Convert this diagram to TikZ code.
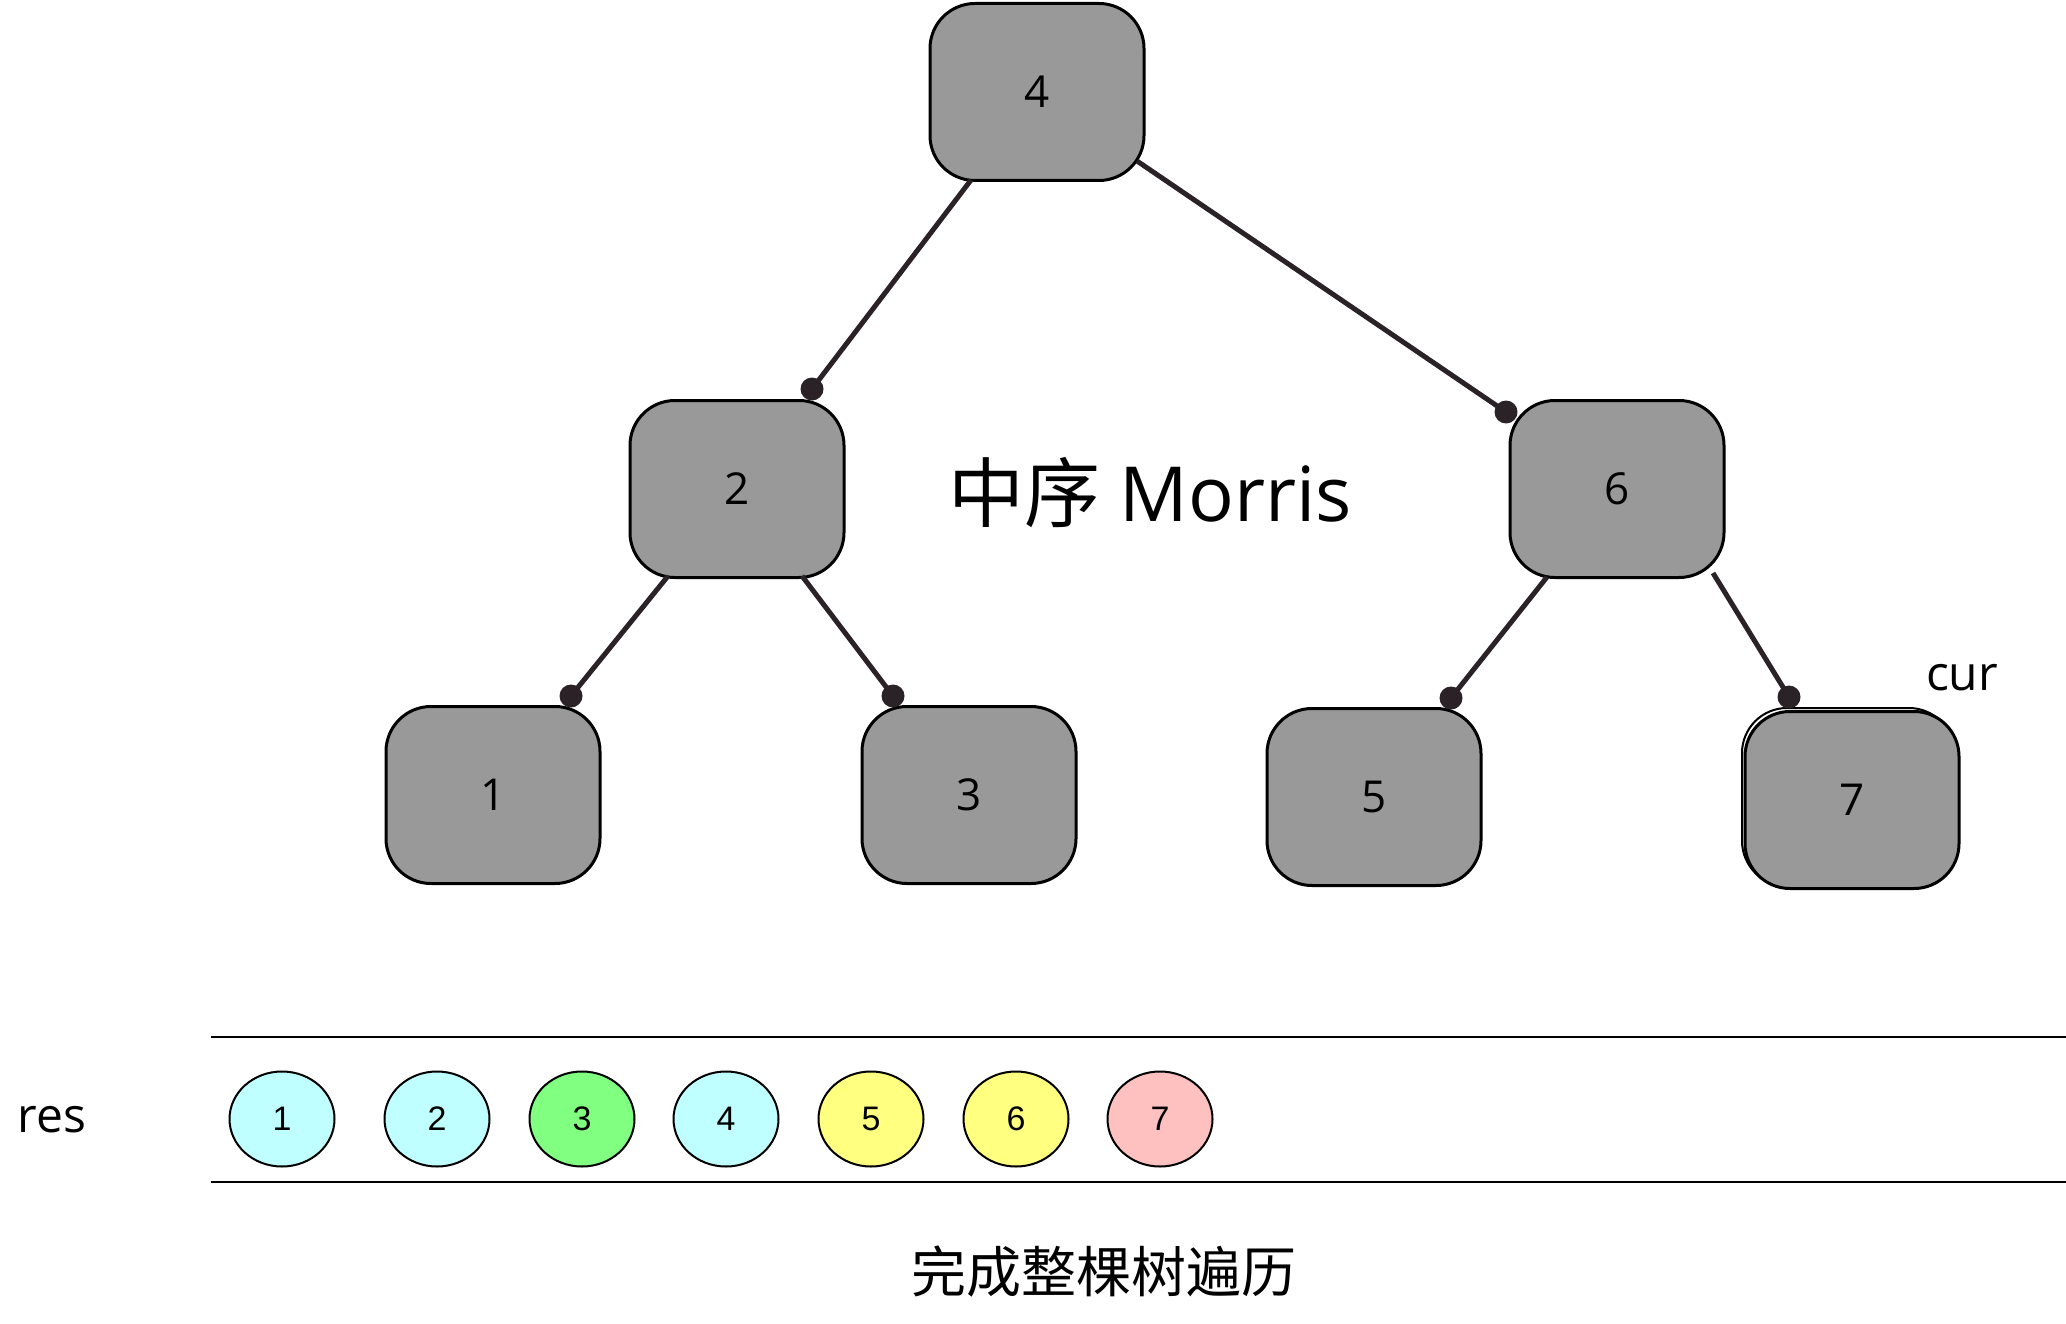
\documentclass[tikz,border=0pt]{standalone}
\usepackage{fontspec}
\setmainfont{Open Sans}
\newfontfamily\cjk{Noto Sans CJK SC}
\newfontfamily\helv{Liberation Sans}
\usetikzlibrary{calc,shapes.geometric}
\definecolor{boxgray}{HTML}{999999}
\definecolor{edgecol}{RGB}{43,34,40}
\definecolor{rcyan}{HTML}{C0FFFF}
\definecolor{rgreen}{HTML}{80FF80}
\definecolor{ryellow}{HTML}{FFFF80}
\definecolor{rpink}{HTML}{FFC0C0}
\begin{document}
\begin{tikzpicture}[x=1pt,y=-1pt,
  treenode/.style={draw=black,line width=3pt,fill=boxgray,rounded corners=45pt,
    minimum width=214pt,minimum height=177pt,inner sep=0pt,font=\fontsize{44}{48}\selectfont},
  edge/.style={draw=edgecol,line width=5pt},
  resnode/.style={ellipse,draw=black,line width=2pt,minimum width=105pt,minimum height=95pt,
    inner sep=0pt,font=\helv\fontsize{34}{38}\selectfont},
  lbl/.style={font=\fontsize{48}{52}\selectfont,inner sep=0pt}]
\useasboundingbox (0,0) rectangle (2066,1324);
% tree nodes
\node[treenode] (n4) at (1037,92) {4};
\node[treenode] (n2) at (737,489) {2};
\node[treenode] (n6) at (1617,489) {6};
\node[treenode] (n1) at (493,795) {1};
\node[treenode] (n3) at (969,795) {3};
\node[treenode] (n5) at (1374,797) {5};
\draw[line width=2pt,rounded corners=45pt] (1742,708) rectangle (1954,886);
\node[treenode] (n7) at (1852,800) {7};
% edge coordinates
\coordinate (s42) at ($(n4)+(-66,88)$);
\coordinate (e42) at ($(n2)+(75,-100)$);
\coordinate (s46) at ($(n4)+(100,69)$);
\coordinate (e46) at ($(n6)+(-111,-77)$);
\coordinate (s21) at ($(n2)+(-69,87)$);
\coordinate (e21) at ($(n1)+(78,-99)$);
\coordinate (s23) at ($(n2)+(65,87)$);
\coordinate (e23) at ($(n3)+(-76,-99)$);
\coordinate (s65) at ($(n6)+(-70,88)$);
\coordinate (e65) at ($(n5)+(77,-99)$);
\coordinate (s67) at ($(n6)+(96,84)$);
\coordinate (e67) at ($(n7)+(-63,-103)$);
\foreach \s/\e in {s42/e42,s46/e46,s21/e21,s23/e23,s65/e65,s67/e67}{
  \draw[edge] (\s) -- (\e);
  \fill[edgecol] (\e) circle (11.5pt);
}
% labels
\node[inner sep=0pt,font=\fontsize{76}{82}\selectfont] (title) at (1150,493) {{\cjk 中序} Morris};
\node[lbl] (cur) at (1962,678) {cur};
\node[lbl] (res) at (52,1120) {res};
% res band
\coordinate (l1a) at (211,1037);
\coordinate (l1b) at (2066,1037);
\coordinate (l2a) at (211,1182);
\coordinate (l2b) at (2066,1182);
\draw[line width=2.5pt] (l1a) -- (l1b);
\draw[line width=2.5pt] (l2a) -- (l2b);
\node[resnode,fill=rcyan] (r1) at (282,1119) {1};
\node[resnode,fill=rcyan] (r2) at (437,1119) {2};
\node[resnode,fill=rgreen] (r3) at (582,1119) {3};
\node[resnode,fill=rcyan] (r4) at (726,1119) {4};
\node[resnode,fill=ryellow] (r5) at (871,1119) {5};
\node[resnode,fill=ryellow] (r6) at (1016,1119) {6};
\node[resnode,fill=rpink] (r7) at (1160,1119) {7};
\node[inner sep=0pt,font=\cjk\fontsize{55}{60}\selectfont] (bottom) at (1104,1272) {完成整棵树遍历};
\end{tikzpicture}
\end{document}
